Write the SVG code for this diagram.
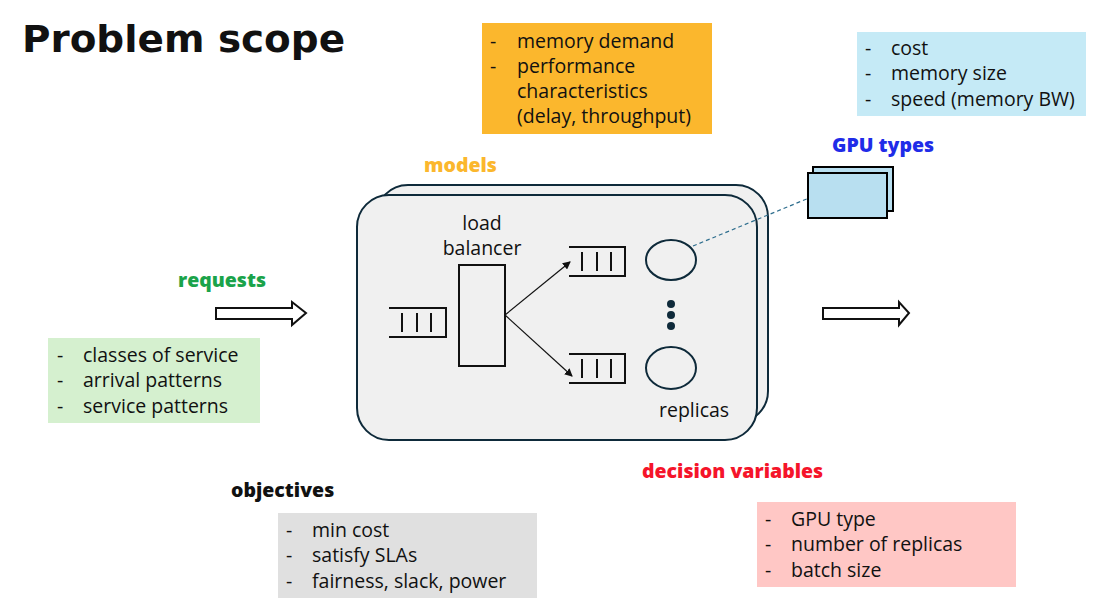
<svg xmlns="http://www.w3.org/2000/svg" width="1105" height="612" viewBox="0 0 1105 612">
<style>
.t{font-family:"Open Sans","Liberation Sans",Arial,sans-serif;font-size:19.5px;fill:#111}
.b{font-family:"Open Sans","Liberation Sans",Arial,sans-serif;font-size:19.5px;font-weight:800}
.q{fill:none;stroke:#111;stroke-width:2}
.frame{fill:#F0F0F0;stroke:#0E2A3A;stroke-width:2}
.blk{fill:#fff;stroke:#111;stroke-width:2}
</style>
<defs>
<marker id="ah" markerWidth="8" markerHeight="8" refX="7" refY="4" orient="auto" markerUnits="userSpaceOnUse">
<path d="M0,0 L8,4 L0,8 z" fill="#111"/>
</marker>
</defs>
<rect width="1105" height="612" fill="#fff"/>
<g id="title"><text x="22" y="52" font-family="'Comic Sans MS','DejaVu Sans',sans-serif" font-weight="bold" font-size="38" fill="#111" textLength="323" lengthAdjust="spacingAndGlyphs">Problem scope</text></g>

<g id="model-props">
<rect x="482" y="23" width="230" height="111" fill="#FBB72D"/>
<text class="t" x="490" y="48">-</text><text class="t" x="517" y="48">memory demand</text>
<text class="t" x="490" y="73">-</text><text class="t" x="517" y="73">performance</text>
<text class="t" x="517" y="98">characteristics</text>
<text class="t" x="517" y="123">(delay, throughput)</text>
</g>

<g id="gpu-props">
<rect x="857" y="32" width="229" height="84" fill="#C5EAF6"/>
<text class="t" x="865" y="55">-</text><text class="t" x="891" y="55">cost</text>
<text class="t" x="865" y="80">-</text><text class="t" x="891" y="80">memory size</text>
<text class="t" x="865" y="106">-</text><text class="t" x="891" y="106">speed (memory BW)</text>
</g>

<g id="gpu-types">
<text class="b" x="832" y="152" fill="#1F2CE8">GPU types</text>
<rect x="813" y="167" width="80" height="44" fill="#B8DFF0" stroke="#000" stroke-width="2"/>
<rect x="808" y="173" width="79" height="45" fill="#B8DFF0" stroke="#000" stroke-width="2"/>
</g>

<g id="models-label"><text class="b" x="424" y="172" fill="#FBB72D">models</text></g>

<g id="cluster">
<rect class="frame" x="376" y="185" width="392" height="238" rx="32"/>
<rect class="frame" x="357" y="195" width="400" height="245" rx="32"/>
</g>

<g id="input-queue">
<path class="q" d="M389,308 H446 V337 H389 M402,313 V332 M417,313 V332 M431,313 V332"/>
</g>

<g id="load-balancer">
<text class="t" x="482" y="230" text-anchor="middle">load</text>
<text class="t" x="482" y="255" text-anchor="middle">balancer</text>
<rect x="459" y="265" width="46" height="101" fill="none" stroke="#111" stroke-width="2"/>
</g>

<g id="queue-top">
<path class="q" d="M569,247 H625 V276 H569 M582,252 V271 M597,252 V271 M611,252 V271"/>
</g>
<g id="queue-bottom">
<path class="q" d="M569,354 H625 V383 H569 M582,359 V378 M597,359 V378 M611,359 V378"/>
</g>

<g id="replica-top"><ellipse cx="671" cy="260" rx="25" ry="20" fill="none" stroke="#0E2A3A" stroke-width="2"/></g>
<g id="replica-bottom"><ellipse cx="671" cy="368" rx="25" ry="21" fill="none" stroke="#0E2A3A" stroke-width="2"/></g>
<g id="dots" fill="#0E2A3A">
<circle cx="671" cy="304" r="4"/><circle cx="671" cy="315" r="4"/><circle cx="671" cy="326" r="4"/>
</g>
<g id="replicas-label"><text class="t" x="659" y="417">replicas</text></g>

<g id="connectors">
<line x1="505" y1="315" x2="570" y2="262" stroke="#111" stroke-width="1.2" marker-end="url(#ah)"/>
<line x1="505" y1="315" x2="572" y2="376" stroke="#111" stroke-width="1.2" marker-end="url(#ah)"/>
<line x1="693" y1="246" x2="809" y2="198" stroke="#2E6E8E" stroke-width="1.2" stroke-dasharray="4,3"/>
<path class="blk" d="M216,308 H292 V302 L306,313 L292,325 V319 H216 z"/>
<path class="blk" d="M823,308 H899 V302 L909,313 L899,325 V319 H823 z"/>
</g>

<g id="requests">
<text class="b" x="178" y="287" fill="#1AA34A">requests</text>
<rect x="48" y="338" width="212" height="85" fill="#D5F0CF"/>
<text class="t" x="57" y="362">-</text><text class="t" x="83" y="362">classes of service</text>
<text class="t" x="57" y="387">-</text><text class="t" x="83" y="387">arrival patterns</text>
<text class="t" x="57" y="413">-</text><text class="t" x="83" y="413">service patterns</text>
</g>

<g id="objectives">
<text class="b" x="231" y="497" fill="#111">objectives</text>
<rect x="278" y="513" width="259" height="85" fill="#E0E0E0"/>
<text class="t" x="286" y="537">-</text><text class="t" x="312" y="537">min cost</text>
<text class="t" x="286" y="562">-</text><text class="t" x="312" y="562">satisfy SLAs</text>
<text class="t" x="286" y="588">-</text><text class="t" x="312" y="588">fairness, slack, power</text>
</g>

<g id="decision-variables">
<text class="b" x="642" y="478" fill="#F5142A">decision variables</text>
<rect x="757" y="502" width="259" height="85" fill="#FFC7C5"/>
<text class="t" x="765" y="526">-</text><text class="t" x="791" y="526">GPU type</text>
<text class="t" x="765" y="551">-</text><text class="t" x="791" y="551">number of replicas</text>
<text class="t" x="765" y="577">-</text><text class="t" x="791" y="577">batch size</text>
</g>
</svg>
